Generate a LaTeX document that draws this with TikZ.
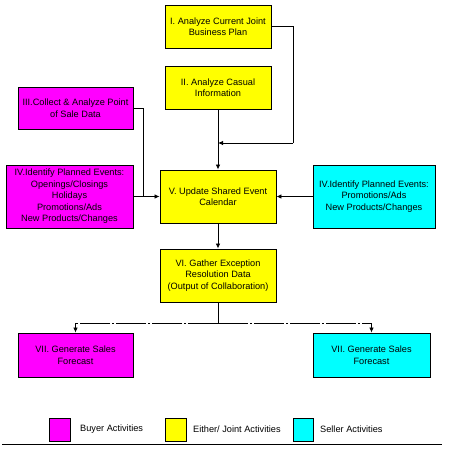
\documentclass[tikz,border=0pt]{standalone}
\usepackage{fontspec}
\setmainfont{Liberation Sans}
\usetikzlibrary{arrows.meta}
\definecolor{buyer}{RGB}{255,0,255}
\definecolor{joint}{RGB}{255,255,0}
\definecolor{seller}{RGB}{0,255,255}
\begin{document}
\begin{tikzpicture}[x=1pt,y=-1pt,
  box/.style={draw=black,line width=0.9pt,rectangle,inner sep=0pt,align=center,font=\fontsize{9.2}{11.5}\selectfont},
  conn/.style={draw=black,line width=0.8pt},
  arr/.style={conn,-{Latex[length=5pt,width=4.5pt]}},
  dashdot/.style={conn,dash pattern=on 30pt off 2pt on 2pt off 2pt},
  legtext/.style={anchor=west,inner sep=0pt,font=\fontsize{9.2}{11}\selectfont}]
\useasboundingbox (0,0) rectangle (452,467);
\node[box,fill=joint,minimum width=106pt,minimum height=43pt] (I) at (218,26.5) {I. Analyze Current Joint\\Business Plan};
\node[box,fill=joint,minimum width=106pt,minimum height=43pt] (II) at (218,87.5) {II. Analyze Casual\\Information};
\node[box,fill=buyer,minimum width=115pt,minimum height=42pt] (III) at (75.5,108) {III.Collect \& Analyze Point\\of Sale Data};
\node[box,fill=buyer,minimum width=127pt,minimum height=63pt] (IVL) at (69.5,196.5) {IV.Identify Planned Events:\\Openings/Closings\\Holidays\\Promotions/Ads\\New Products/Changes};
\node[box,fill=joint,minimum width=116pt,minimum height=53pt] (V) at (218,196.5) {V. Update Shared Event\\Calendar};
\node[box,fill=seller,minimum width=122pt,minimum height=63pt] (IVR) at (374,196.5) {IV.Identify Planned Events:\\Promotions/Ads\\New Products/Changes};
\node[box,fill=joint,minimum width=116pt,minimum height=53pt] (VI) at (218,275.5) {VI. Gather Exception\\Resolution Data\\(Output of Collaboration)};
\node[box,fill=buyer,minimum width=115pt,minimum height=44pt] (VIIL) at (75.5,355) {VII. Generate Sales\\Forecast};
\node[box,fill=seller,minimum width=117pt,minimum height=44pt] (VIIR) at (371.5,355) {VII. Generate Sales\\Forecast};
% connectors
\coordinate (c1) at (293,26.5);
\coordinate (c2) at (293,143);
\coordinate (c3) at (218,143);
\draw[conn] (I.east) -- (c1) -- (c2);
\draw[arr] (c2) -- (c3);
\draw[arr] (II.south) -- (V.north);
\coordinate (d1) at (143,108);
\coordinate (d2) at (143,196.5);
\draw[conn] (III.east) -- (d1) -- (d2);
\draw[arr] (IVL.east) -- (V.west);
\draw[arr] (IVR.west) -- (V.east);
\draw[arr] (V.south) -- (VI.north);
\coordinate (e0) at (218,323);
\coordinate (eL) at (75.5,323);
\coordinate (eR) at (371.5,323);
\draw[conn] (VI.south) -- (e0);
\draw[dashdot] (e0) -- (eL);
\draw[dashdot] (e0) -- (eR);
\draw[arr] (eL) -- (VIIL.north);
\draw[arr] (eR) -- (VIIR.north);
% legend
\node[box,fill=buyer,minimum width=21pt,minimum height=23pt] (LB) at (59.5,429.5) {};
\node[legtext] (LBt) at (80,429.5) {Buyer Activities};
\node[box,fill=joint,minimum width=21pt,minimum height=23pt] (LJ) at (175.5,429.5) {};
\node[legtext] (LJt) at (193,429.5) {Either/ Joint Activities};
\node[box,fill=seller,minimum width=20pt,minimum height=23pt] (LS) at (303,429.5) {};
\node[legtext] (LSt) at (320,429.5) {Seller Activities};
\coordinate (b1) at (2,444);
\coordinate (b2) at (442,444);
\draw[conn] (b1) -- (b2);
\end{tikzpicture}
\end{document}
